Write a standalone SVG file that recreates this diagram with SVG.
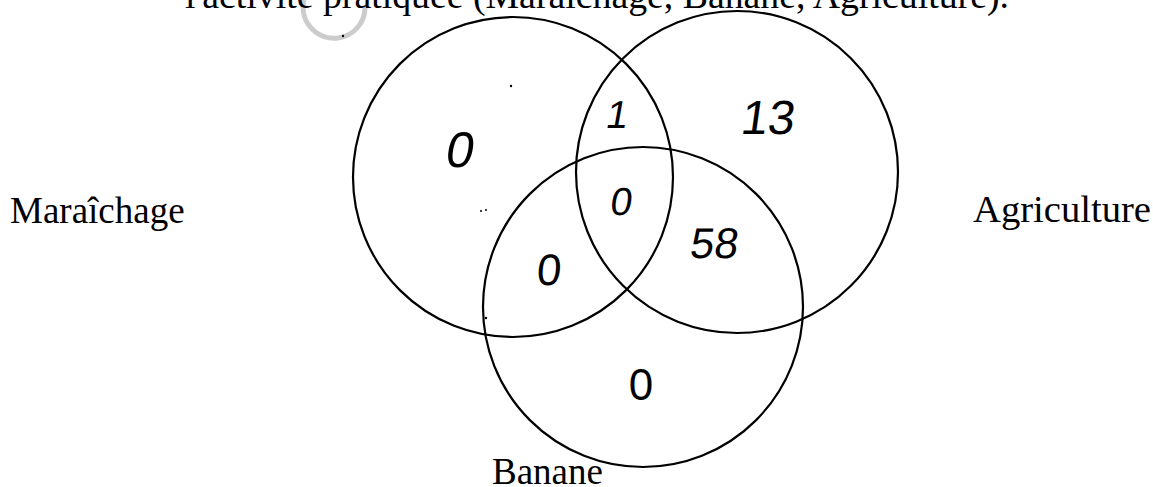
<svg xmlns="http://www.w3.org/2000/svg" width="1153" height="487" viewBox="0 0 1153 487">
<style>
.set{fill:none;stroke:#000;stroke-width:2.2}
.lbl{font-family:"Liberation Serif","Times New Roman",serif;font-size:37px;fill:#000}
.num{font-family:"Liberation Sans",Arial,sans-serif;fill:#000;text-anchor:middle}
.speck{fill:#000}
</style>
<rect width="1153" height="487" fill="#fff"/>
<path d="M 304 0 A 31 31 0 0 0 338 38 A 31 31 0 0 0 365 6" fill="none" stroke="#cccccc" stroke-width="5"/>
<text class="lbl" x="185" y="8" textLength="824" lengthAdjust="spacingAndGlyphs">l'activité pratiquée (Maraîchage, Banane, Agriculture).</text>
<g id="maraichage">
<circle class="set" cx="513" cy="177" r="160"/>
<text class="lbl" x="10" y="223">Maraîchage</text>
</g>
<g id="agriculture">
<circle class="set" cx="737" cy="172" r="161"/>
<text class="lbl" x="973" y="222" textLength="178" lengthAdjust="spacingAndGlyphs">Agriculture</text>
</g>
<g id="banane">
<circle class="set" cx="643" cy="307" r="160"/>
<text class="lbl" x="492" y="484">Banane</text>
</g>
<g id="counts">
<text class="num" x="458" y="167" font-size="50" transform="skewX(-10) translate(29 0)">0</text>
<text class="num" x="616" y="128" font-size="39" transform="skewX(-10) translate(22 0)">1</text>
<text class="num" x="766" y="134" font-size="48" transform="skewX(-8) translate(19 0)">13</text>
<text class="num" x="620" y="215" font-size="39" transform="skewX(-8) translate(30 0)">0</text>
<text class="num" x="713" y="258" font-size="43" transform="skewX(-8) translate(36 0)">58</text>
<text class="num" x="548" y="285" font-size="44" transform="skewX(-5) translate(25 0)">0</text>
<text class="num" x="641" y="400" font-size="44">0</text>
</g>
<g id="specks">
<circle class="speck" cx="511" cy="86" r="1.2"/>
<circle class="speck" cx="481" cy="211" r="1"/>
<circle class="speck" cx="486" cy="210" r="1"/>
<circle class="speck" cx="486" cy="318" r="1.2"/>
<circle class="speck" cx="343" cy="36" r="1.2"/>
</g>
</svg>
